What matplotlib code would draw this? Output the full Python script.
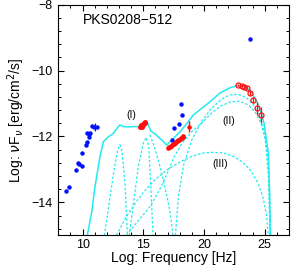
import matplotlib
matplotlib.use("Agg")
import matplotlib.pyplot as plt
from matplotlib.ticker import MultipleLocator

plt.rcParams['font.family'] = ['Liberation Sans', 'DejaVu Sans']

# ---------------- data ----------------
# blue (archival) points
blue_x = [8.60, 8.91, 9.43, 9.65, 9.70, 9.92, 9.92, 10.28, 10.39, 10.36, 10.53, 10.55,
          10.64, 10.77, 10.97, 11.16, 17.39, 17.53, 17.97, 18.08, 18.22, 23.79]
blue_y = [-13.66, -13.54, -13.02, -12.80, -12.84, -12.89, -12.49, -12.27, -12.16, -11.88,
          -12.01, -11.91, -11.89, -11.68, -11.70, -11.71, -12.11, -11.75, -11.63, -11.02,
          -11.35, -9.04]

# red optical points (I)
opt_x = [14.70, 14.78, 14.85, 14.90, 14.95, 15.00, 15.05, 15.12, 15.18]
opt_y = [-11.72, -11.68, -11.66, -11.70, -11.63, -11.65, -11.60, -11.58, -11.55]

# red X-ray points
xr_x = [17.05, 17.12, 17.20, 17.28, 17.36, 17.44, 17.52, 17.60, 17.68, 17.76, 17.84,
        17.92, 18.00, 18.08, 18.16, 18.24, 18.30]
xr_y = [-12.34, -12.32, -12.31, -12.29, -12.27, -12.24, -12.22, -12.19, -12.17, -12.15,
        -12.12, -12.10, -12.08, -12.06, -12.04, -12.02, -12.00]
hx_x = [18.79]
hx_y = [-11.70]
hx_err = [0.17]

# red gamma-ray points (open)
g_x = [22.83, 23.11, 23.32, 23.52, 23.79, 24.06, 24.39, 24.67]
g_y = [-10.44, -10.47, -10.49, -10.52, -10.67, -10.89, -11.14, -11.35]
g_err = [0.03, 0.03, 0.03, 0.04, 0.06, 0.10, 0.20, 0.25]

# model: total (solid)
tot_x = [10.39, 10.75, 11.02, 11.43, 11.71, 12.10, 12.53, 12.90, 13.08, 13.35, 13.80,
         14.18, 14.60, 15.00, 15.20, 15.36, 15.61, 16.00, 16.37, 16.70, 16.92, 17.10,
         17.34, 17.70, 18.02, 18.60, 19.12, 19.80, 20.49, 21.32, 22.14, 22.83, 23.30,
         23.79, 24.34, 24.75, 24.95, 25.10, 25.30, 25.40, 25.46]
tot_y = [-15.0, -14.3, -13.53, -12.62, -12.16, -12.02, -11.91, -11.72, -11.65, -11.70,
         -11.71, -11.70, -11.70, -11.68, -11.64, -11.60, -11.83, -11.93, -12.06, -12.17,
         -12.26, -12.20, -12.11, -11.98, -11.86, -11.60, -11.35, -11.15, -10.95, -10.68,
         -10.52, -10.45, -10.48, -10.60, -10.92, -11.33, -11.60, -12.00, -12.50, -13.60,
         -15.0]

# model components (dashed)
sa_x = [11.80, 12.20, 12.60, 12.90, 13.08, 13.25, 13.50, 13.70]
sa_y = [-15.0, -14.0, -13.0, -12.40, -12.25, -12.45, -13.50, -15.0]
sb_x = [13.85, 14.20, 14.60, 15.00, 15.25, 15.45, 15.62, 15.80]
sb_y = [-15.0, -14.0, -12.90, -12.20, -12.03, -12.30, -13.50, -15.0]
sc_x = [15.55, 15.90, 16.30, 16.70, 17.00, 17.25, 17.45]
sc_y = [-11.95, -12.30, -12.80, -13.40, -13.90, -14.40, -15.0]
ec1_x = [17.65, 17.90, 18.30, 19.00, 19.80, 20.60, 21.40, 22.10, 22.80, 23.50, 24.10,
         24.60, 25.00, 25.25, 25.40, 25.50]
ec1_y = [-15.0, -13.8, -12.9, -12.10, -11.55, -11.15, -10.88, -10.74, -10.72, -10.82,
         -11.05, -11.40, -11.90, -12.60, -13.70, -15.0]
ec2_x = [13.60, 14.50, 15.55, 16.30, 17.00, 17.50, 18.20, 19.00, 19.80, 20.60, 21.40,
         22.20, 22.90, 23.60, 24.20, 24.70, 25.05, 25.30, 25.45]
ec2_y = [-15.0, -14.60, -14.13, -13.65, -13.10, -12.65, -12.20, -11.85, -11.60, -11.30,
         -11.07, -10.95, -10.93, -11.03, -11.25, -11.60, -12.10, -13.20, -15.0]
ssc_x = [12.80, 13.50, 14.30, 15.00, 16.00, 17.00, 18.00, 19.00, 20.00, 20.80, 21.60,
         22.40, 23.20, 23.90, 24.50, 24.90, 25.15, 25.30]
ssc_y = [-15.0, -14.50, -14.05, -13.70, -13.30, -13.00, -12.78, -12.60, -12.50, -12.48,
         -12.50, -12.60, -12.78, -13.05, -13.45, -13.90, -14.40, -15.0]

labels = ["(I)", "(II)", "(III)"]
label_x = [14.05, 22.0, 21.3]
label_y = [-11.35, -11.52, -12.84]

# ---------------- plot ----------------
fig = plt.figure(figsize=(2.91, 2.69), dpi=100)
ax = fig.add_axes([0.2003, 0.1253, 0.7927, 0.8572])

cyan = "#22eaf0"
ax.plot(tot_x, tot_y, color=cyan, lw=1.1, zorder=2)
for cx, cy in [(sa_x, sa_y), (sb_x, sb_y), (sc_x, sc_y), (ec1_x, ec1_y),
               (ec2_x, ec2_y), (ssc_x, ssc_y)]:
    ax.plot(cx, cy, color=cyan, lw=0.9, ls=(0, (2.0, 1.5)), zorder=2)

ax.plot(blue_x, blue_y, 'o', color='#0010ff', ms=3.2, mec='none', zorder=4)
ax.errorbar([11.05], [-11.72], yerr=[0.12], fmt='none', ecolor='#0010ff', lw=0.9, zorder=4)
ax.plot(opt_x, opt_y, 'o', color='#ff1010', ms=3.6, mec='none', zorder=4)
ax.plot(xr_x, xr_y, 'o', color='#ff1010', ms=3.4, mec='none', zorder=4)
ax.errorbar(hx_x, hx_y, yerr=hx_err, xerr=[0.12], fmt='o', color='#ff1010', ms=3.2,
            mec='none', elinewidth=1.0, capsize=0, zorder=4)
ax.errorbar(g_x, g_y, yerr=g_err, fmt='o', mfc='none', mec='#ff1010', ecolor='#ff1010',
            ms=3.6, mew=0.9, elinewidth=0.9, capsize=0, zorder=4)

for t, lx, ly in zip(labels, label_x, label_y):
    ax.text(lx, ly, t, fontsize=7.5, ha='center', va='center')

ax.text(10.0, -8.46, "PKS0208\u2212512", fontsize=10, ha='left', va='center')

ax.set_xlim(8, 27)
ax.set_ylim(-15, -8)
ax.xaxis.set_major_locator(MultipleLocator(5))
ax.xaxis.set_minor_locator(MultipleLocator(1))
ax.yaxis.set_major_locator(MultipleLocator(2))
ax.yaxis.set_minor_locator(MultipleLocator(0.4))
ax.tick_params(which='both', direction='in', top=True, right=True, labelsize=9)
ax.tick_params(which='major', length=4, width=0.8)
ax.tick_params(axis='x', which='major', pad=2.5)
ax.tick_params(axis='y', which='major', pad=4)
ax.tick_params(which='minor', length=2, width=0.7)
for s in ax.spines.values():
    s.set_linewidth(0.8)

ax.set_xlabel("Log: Frequency [Hz]", fontsize=10, labelpad=0.5)
ax.set_ylabel(r"Log: $\nu$F$_\nu$ [erg/cm$^2$/s]", fontsize=10, labelpad=3)

fig.savefig("out.png", dpi=100)
